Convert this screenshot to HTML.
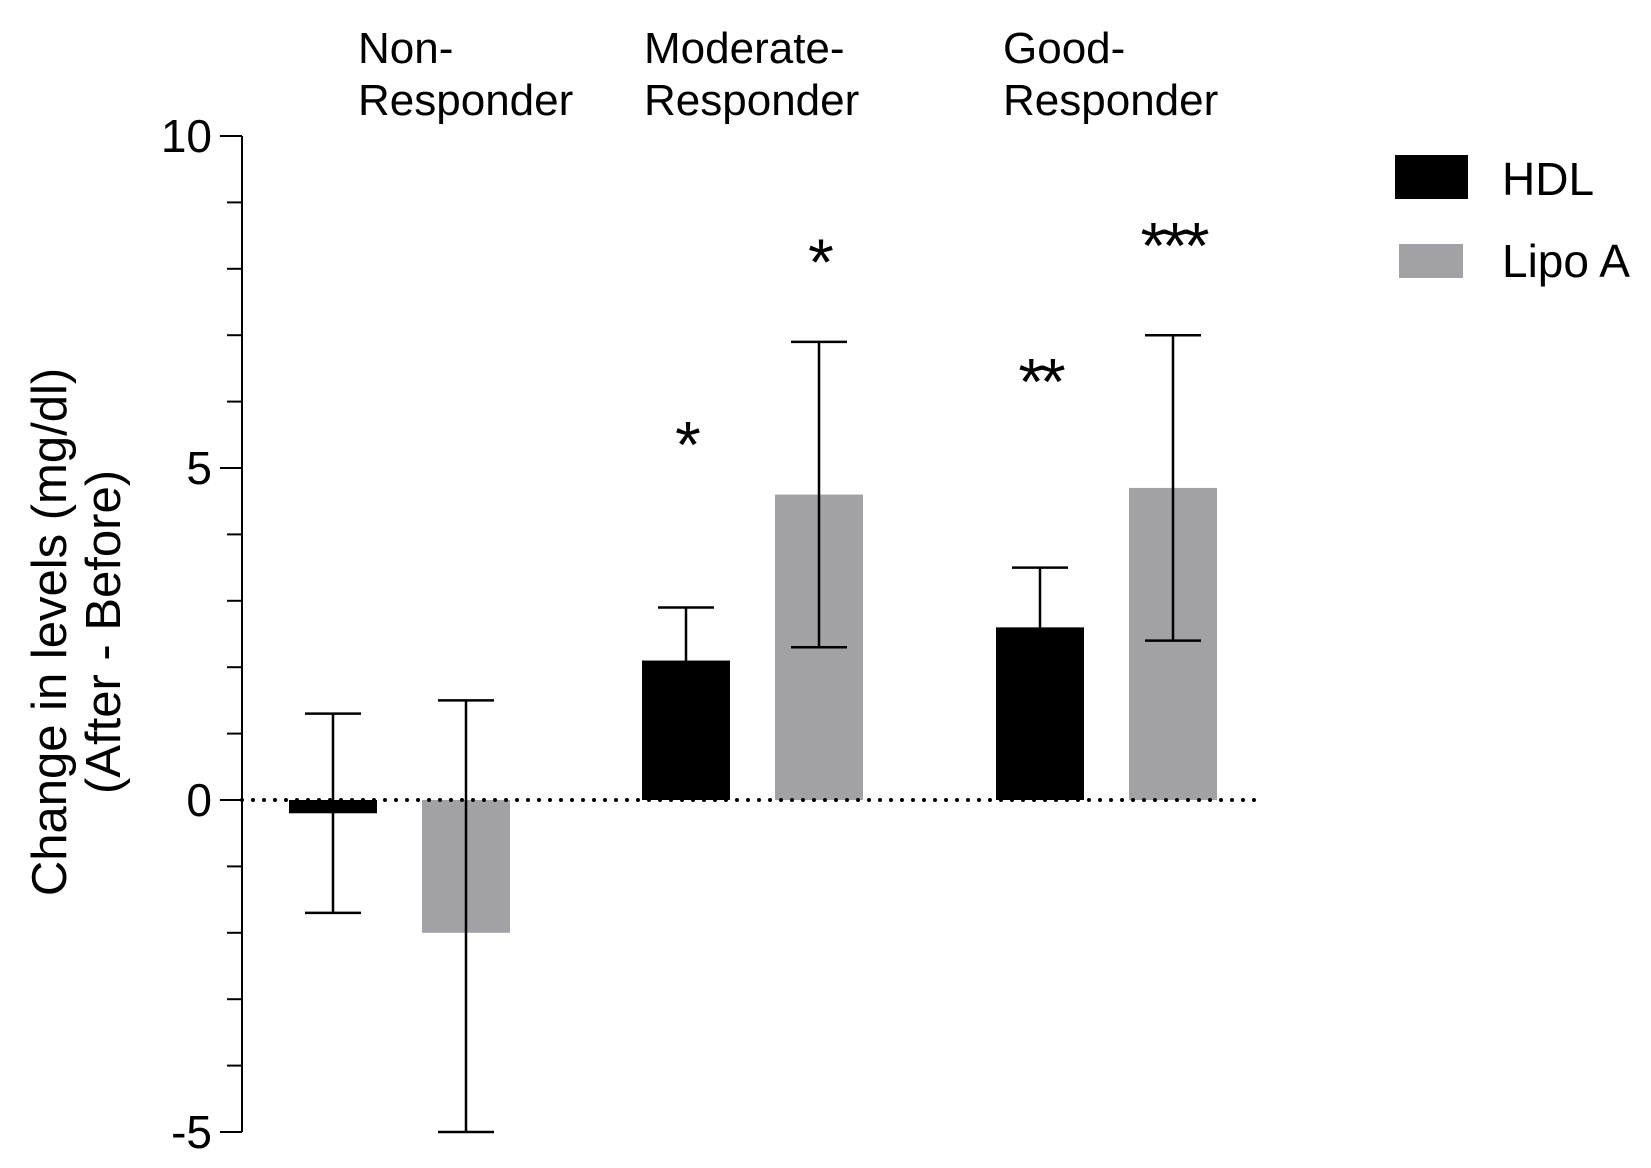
<!DOCTYPE html>
<html><head><meta charset="utf-8"><style>
html,body{margin:0;padding:0;background:#fff;}
svg text{font-family:"Liberation Sans",Arial,sans-serif;fill:#000;}
</style></head><body>
<svg id="chart" width="1651" height="1163" viewBox="0 0 1651 1163" xmlns="http://www.w3.org/2000/svg"></svg>
<script>
const groups = ["Non-Responder","Moderate-Responder","Good-Responder"];
const groupLine1 = ["Non-","Moderate-","Good-"];
const hdlValues = [-0.2, 2.1, 2.6];
const hdlErrors = [1.5, 0.8, 0.9];
const lipoValues = [-2.0, 4.6, 4.7];
const lipoErrors = [3.5, 2.3, 2.3];
const hdlStars = ["", "*", "**"];
const lipoStars = ["", "*", "***"];
const hdlStarLevels = [0, 5.55, 6.5];
const lipoStarLevels = [0, 8.3, 8.55];
const yTicks = [-5, 0, 5, 10];

const svg = document.getElementById('chart');
const NS = "http://www.w3.org/2000/svg";
const axisX = 242, y0px = 800, unit = (1133 - 137) / 15;
const yMin = -5, yMax = 10;
const y = v => y0px - Math.max(yMin, Math.min(yMax, v)) * unit;
const groupX = [289, 642, 996];
const labelX = [358, 644, 1003];
const barW = 88, seriesGap = 133;
function el(tag, attrs, txt){const e=document.createElementNS(NS,tag);for(const k in attrs)e.setAttribute(k,attrs[k]);if(txt!==undefined)e.textContent=txt;svg.appendChild(e);return e;}

let ax = el('line',{x1:axisX,y1:y(10),x2:axisX,y2:y(-5),stroke:'#000','stroke-width':2});


for(let v=-5; v<=10; v++){
  const len = (v%5===0)?22:15;
  const t = el('line',{x1:axisX-len,y1:y(v),x2:axisX,y2:y(v),stroke:'#000','stroke-width':2});
  
  
}
yTicks.forEach(v=>{
  const t = el('text',{x:axisX-30,y:y(v)+16,'font-size':46,'text-anchor':'end'},String(v));
  
  
});
const tt = el('text',{transform:'translate(66,632) rotate(-90)','font-size':49,'text-anchor':'middle'},'Change in levels (mg/dl)');


const tt2 = el('text',{transform:'translate(120,632) rotate(-90)','font-size':49,'text-anchor':'middle'},'(After - Before)');



function drawBar(x, v, err, color, name, bothWays, star, starLevel){
  const top = Math.min(y(v), y(0)), h = Math.abs(y(v)-y(0));
  const r = el('rect',{x:x,y:top,width:barW,height:Math.max(h,1),fill:color});
  
  
  const cx = x + barW/2;
  const hi = v + err, lo = bothWays ? v - err : v;
  const e = el('path',{d:`M${cx},${y(hi)}V${y(lo)}M${cx-28},${y(hi)}H${cx+28}`+(bothWays?`M${cx-28},${y(lo)}H${cx+28}`:''),stroke:'#000','stroke-width':2.5,fill:'none'});
  
  
  if(star){
    const s = el('text',{x:cx,y:y(starLevel)+36,'font-size':66,'text-anchor':'middle','letter-spacing':'-4'},star);
    
    
  }
}
groups.forEach((g,i)=>{
  drawBar(groupX[i], hdlValues[i], hdlErrors[i], '#000', 'bar-hdl-'+i, i===0, hdlStars[i], hdlStarLevels[i]);
  drawBar(groupX[i]+seriesGap, lipoValues[i], lipoErrors[i], '#a2a1a6', 'bar-lipo-'+i, true, lipoStars[i], lipoStarLevels[i]);
  const l1 = el('text',{x:labelX[i],y:63,'font-size':44},groupLine1[i]);
  
  
  const l2 = el('text',{x:labelX[i],y:115,'font-size':44},'Responder');
  
  
});
const zl = el('line',{x1:axisX,y1:y(0),x2:1262,y2:y(0),stroke:'#000','stroke-width':4,'stroke-dasharray':'0 11','stroke-linecap':'round'});


const lg1 = el('rect',{x:1395,y:155,width:73,height:44,fill:'#000'});


const lt1 = el('text',{x:1502,y:195,'font-size':46},'HDL');


const lg2 = el('rect',{x:1399,y:244,width:64,height:34,fill:'#a2a1a6'});


const lt2 = el('text',{x:1502,y:277,'font-size':46},'Lipo A');


</script>
</body></html>
